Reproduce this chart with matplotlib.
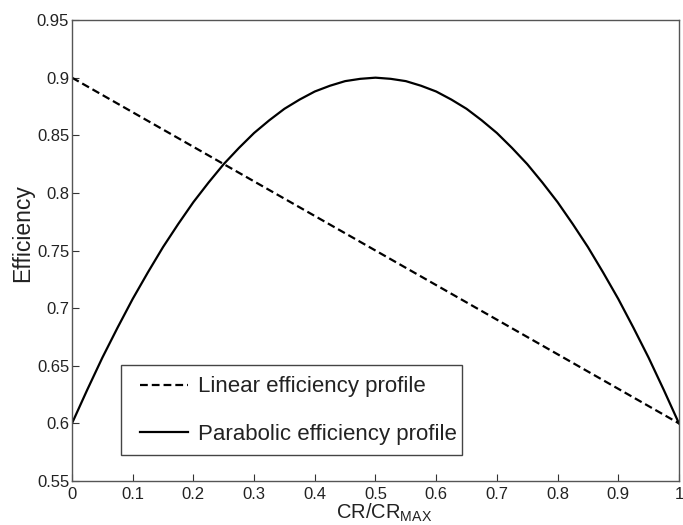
import matplotlib
matplotlib.use('Agg')
import matplotlib.pyplot as plt
from matplotlib.patches import Rectangle

plt.rcParams['font.family'] = ['Liberation Sans', 'DejaVu Sans']

# values
x_lin = [0.0, 1.0]
eff_lin = [0.9, 0.6]

x_par = [0.0, 0.025, 0.05, 0.075, 0.1, 0.125, 0.15, 0.175, 0.2, 0.225, 0.25,
         0.275, 0.3, 0.325, 0.35, 0.375, 0.4, 0.425, 0.45, 0.475, 0.5,
         0.525, 0.55, 0.575, 0.6, 0.625, 0.65, 0.675, 0.7, 0.725, 0.75,
         0.775, 0.8, 0.825, 0.85, 0.875, 0.9, 0.925, 0.95, 0.975, 1.0]
eff_par = [0.600, 0.629, 0.657, 0.683, 0.708, 0.731, 0.753, 0.773, 0.792, 0.809, 0.825,
           0.839, 0.852, 0.863, 0.873, 0.881, 0.888, 0.893, 0.897, 0.899, 0.900,
           0.899, 0.897, 0.893, 0.888, 0.881, 0.873, 0.863, 0.852, 0.839, 0.825,
           0.809, 0.792, 0.773, 0.753, 0.731, 0.708, 0.683, 0.657, 0.629, 0.600]

xticks = [0, 0.1, 0.2, 0.3, 0.4, 0.5, 0.6, 0.7, 0.8, 0.9, 1]
xticklabels = ['0', '0.1', '0.2', '0.3', '0.4', '0.5', '0.6', '0.7', '0.8', '0.9', '1']
yticks = [0.55, 0.6, 0.65, 0.7, 0.75, 0.8, 0.85, 0.9, 0.95]
yticklabels = ['0.55', '0.6', '0.65', '0.7', '0.75', '0.8', '0.85', '0.9', '0.95']

fig = plt.figure(figsize=(6.83, 5.25), dpi=100)
ax = fig.add_axes([0.1054, 0.0838, 0.8887, 0.878])

ax.plot(x_lin, eff_lin, color='black', linestyle=(0, (3.5, 1.8)), linewidth=1.6,
        label='Linear efficiency profile')
ax.plot(x_par, eff_par, color='black', linestyle='-', linewidth=1.6,
        label='Parabolic efficiency profile')

ax.set_xlim(0, 1)
ax.set_ylim(0.55, 0.95)
ax.set_xticks(xticks)
ax.set_xticklabels(xticklabels)
ax.set_yticks(yticks)
ax.set_yticklabels(yticklabels)
ax.tick_params(direction='in', length=5, width=0.8, colors='#333333',
               labelsize=12, labelcolor='#222222', top=False, right=False)
ax.tick_params(axis='x', pad=4)
ax.tick_params(axis='y', pad=2)

for s in ax.spines.values():
    s.set_color('#555555')
    s.set_linewidth(1.0)

ax.set_xlabel('CR/CR$_{\\mathregular{MAX}}$', fontsize=14.5, color='#222222', labelpad=0)
ax.xaxis.label.set_x(0.515)
ax.set_ylabel('Efficiency', fontsize=16.5, color='#222222', labelpad=2)
ax.yaxis.label.set_y(0.538)

# legend box (MATLAB style: wide side padding, tight top/bottom)
ax.add_patch(Rectangle((0.080, 0.056), 0.562, 0.196, transform=ax.transAxes,
                       facecolor='white', edgecolor='#444444', linewidth=1.0, zorder=4))
leg = ax.legend(loc='lower left', bbox_to_anchor=(0.112, 0.078),
                fontsize=16, handlelength=2.16, handletextpad=0.45,
                labelspacing=1.2, borderpad=0, frameon=False, borderaxespad=0)
leg.set_zorder(5)
for t in leg.get_texts():
    t.set_color('#222222')

fig.savefig('out.png', dpi=100)
